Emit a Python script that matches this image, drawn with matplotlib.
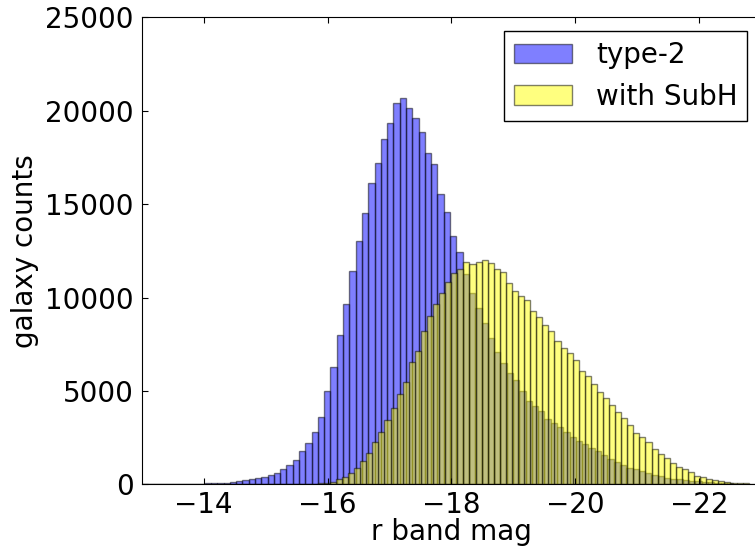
import numpy as np
import matplotlib
matplotlib.use("Agg")
import matplotlib.pyplot as plt

# r-band magnitude range of each sample (100 bins each, faint end first)
mag_faint = -13.0
type2_bright = -23.16
subh_bright = -22.80

# galaxy counts per bin, from the faint end (-13) towards brighter magnitudes
type2_counts = [
    2, 3, 5, 8, 11, 15, 19, 24, 30, 37,
    45, 55, 70, 89, 125, 160, 214, 268, 321, 410,
    500, 624, 803, 1017, 1302, 1775, 2230, 2819, 3604, 4990,
    6298, 7992, 9651, 11435, 13041, 14522, 16145, 17198, 18482, 19356,
    20427, 20663, 20140, 19630, 18874, 17718, 17146, 15540, 14580, 13308,
    12460, 11257, 10240, 9421, 8650, 7830, 7074, 6520, 5985, 5560,
    5000, 4450, 4220, 3900, 3520, 3290, 3050, 2800, 2550, 2320,
    2150, 1970, 1760, 1570, 1360, 1190, 1050, 880, 810, 720,
    590, 490, 420, 360, 300, 260, 220, 190, 160, 130,
    105, 85, 68, 52, 40, 30, 22, 16, 10, 6,
]
subh_counts = [
    1, 0, 0, 0, 0, 0, 0, 0, 0, 0,
    0, 0, 0, 0, 0, 0, 0, 0, 1, 1,
    2, 2, 3, 4, 5, 7, 10, 15, 25, 45,
    89, 130, 268, 410, 600, 900, 1260, 1695, 2248, 2810,
    3443, 4100, 4835, 5495, 6565, 7154, 8224, 9009, 9634, 10258,
    10811, 11311, 11525, 11890, 11774, 11925, 12030, 11845, 11507, 11350,
    10775, 10340, 10090, 9860, 9277, 8938, 8528, 8224, 7689, 7320,
    7047, 6670, 6083, 5798, 5390, 4960, 4640, 4264, 3889, 3532,
    3176, 2765, 2515, 2248, 1873, 1623, 1392, 1124, 946, 803,
    642, 464, 375, 285, 214, 160, 125, 89, 70, 50,
]

plt.rcParams['font.size'] = 20


def draw_hist(ax, bright, counts, color, label):
    edges = np.linspace(mag_faint, bright, len(counts) + 1)
    centers = 0.5 * (edges[:-1] + edges[1:])
    ax.hist(centers, bins=edges[::-1], weights=counts, color=color,
            alpha=0.5, edgecolor='black', linewidth=1.0, label=label)


fig = plt.figure(figsize=(7.55, 5.49), dpi=100)
ax = fig.add_axes([0.1877, 0.1178, 0.8203, 0.8506])

draw_hist(ax, type2_bright, type2_counts, 'blue', 'type-2')
draw_hist(ax, subh_bright, subh_counts, 'yellow', 'with SubH')

ax.set_xlim(-13, -23)
ax.set_ylim(0, 25000)
ax.set_xticks([-14, -16, -18, -20, -22])
ax.set_yticks([0, 5000, 10000, 15000, 20000, 25000])
ax.tick_params(direction='in', length=4, width=0.8, top=True, right=True)
ax.tick_params(axis='y', pad=6)
ax.tick_params(axis='x', pad=5)

ax.set_xlabel('r band mag', labelpad=-1)
ax.set_ylabel('galaxy counts', labelpad=4)

leg = ax.legend(loc='upper right', fancybox=False, framealpha=1,
                handlelength=2.1, handletextpad=0.85, borderpad=0.35,
                labelspacing=0.5, borderaxespad=0.5)
leg.get_frame().set_edgecolor('black')
leg.get_frame().set_linewidth(1.0)

fig.savefig('out.png', dpi=100)
